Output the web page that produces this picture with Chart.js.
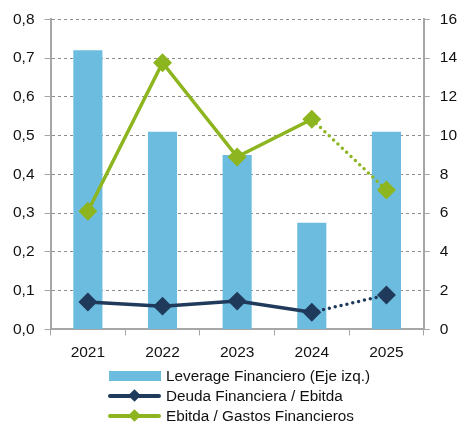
<!DOCTYPE html>
<html>
<head>
<meta charset="utf-8">
<script src="https://cdn.jsdelivr.net/npm/chart.js@4"></script>
<style>
  html, body { margin: 0; padding: 0; background: #fff; }
  body { font-family: "Liberation Sans", Arial, sans-serif; }
  canvas { display: block; }
  #legend { margin: -7px 0 0 108px; font-size: 15.3px; color: #111; }
  .item { height: 20px; display: flex; align-items: center; }
  .sw { width: 53px; height: 20px; position: relative; margin-right: 5px; }
  .box { position: absolute; left: 1px; right: 0; top: 5px; height: 10px; }
  .ln { position: absolute; left: 0; right: 0; top: 8px; height: 4px; border-radius: 2px; }
  .dia { position: absolute; left: 22px; top: 5px; width: 9px; height: 9px; transform: rotate(45deg); }
</style>
</head>
<body>
<canvas id="c" width="463" height="373"></canvas>
<div id="legend"></div>
<script>
const years = ['2021', '2022', '2023', '2024', '2025'];
const leverage = [0.72, 0.51, 0.45, 0.275, 0.51];
const deudaEbitda = [1.41, 1.2, 1.46, 0.89, 1.77];
const ebitdaGastos = [6.1, 13.76, 8.9, 10.84, 7.19];
const leftTicks = [0, 0.1, 0.2, 0.3, 0.4, 0.5, 0.6, 0.7, 0.8];
const rightTicks = [0, 2, 4, 6, 8, 10, 12, 14, 16];

const BLUE = '#6cbcdf', NAVY = '#1f3a5a', GREEN = '#8db51f', AXIS = '#a6a6a6';

// last segment (projection) is dotted
const dotted = ctx => ctx.p0DataIndex === 3 ? [0, 6] : undefined;

new Chart(document.getElementById('c'), {
  type: 'bar',
  data: {
    labels: years,
    datasets: [
      { label: 'Leverage Financiero (Eje izq.)', data: leverage, backgroundColor: BLUE,
        yAxisID: 'y', categoryPercentage: 1, barPercentage: 0.39, order: 3 },
      { type: 'line', label: 'Deuda Financiera / Ebitda', data: deudaEbitda, borderColor: NAVY, backgroundColor: NAVY,
        borderWidth: 3.5, borderCapStyle: 'round', pointStyle: 'rectRot', pointRadius: 7, pointHoverRadius: 7,
        yAxisID: 'y1', segment: { borderDash: dotted }, order: 2 },
      { type: 'line', label: 'Ebitda / Gastos Financieros', data: ebitdaGastos, borderColor: GREEN, backgroundColor: GREEN,
        borderWidth: 3.5, borderCapStyle: 'round', pointStyle: 'rectRot', pointRadius: 7, pointHoverRadius: 7,
        yAxisID: 'y1', segment: { borderDash: dotted }, order: 1 }
    ]
  },
  options: {
    responsive: false,
    animation: false,
    layout: { padding: { top: 17, right: -4, left: 3, bottom: 3 } },
    plugins: { legend: { display: false }, tooltip: { enabled: false } },
    scales: {
      x: {
        offset: true,
        grid: { offset: true, drawOnChartArea: false, color: AXIS, tickLength: 6 },
        border: { color: AXIS, width: 2 },
        ticks: { color: '#111', font: { family: 'Liberation Sans', size: 15.5 }, padding: 8 }
      },
      y: {
        position: 'left', min: 0, max: 0.8,
        ticks: { stepSize: 0.1, color: '#111', font: { family: 'Liberation Sans', size: 15.5 }, padding: 10,
          callback: (v, i) => leftTicks[i].toFixed(1).replace('.', ',') },
        grid: { color: '#8c8c8c', tickColor: AXIS, tickLength: 6 },
        border: { color: AXIS, width: 2, dash: [3, 3] }
      },
      y1: {
        position: 'right', min: 0, max: 16,
        ticks: { stepSize: 2, color: '#111', font: { family: 'Liberation Sans', size: 15.5 }, padding: 10,
          callback: (v, i) => String(rightTicks[i]) },
        grid: { drawOnChartArea: false, color: AXIS, tickLength: 6 },
        border: { color: AXIS, width: 2 }
      }
    }
  }
});

// legend stacked in rows, as in the original
const legend = document.getElementById('legend');
[
  { label: 'Leverage Financiero (Eje izq.)', color: BLUE, kind: 'box' },
  { label: 'Deuda Financiera / Ebitda', color: NAVY, kind: 'line' },
  { label: 'Ebitda / Gastos Financieros', color: GREEN, kind: 'line' }
].forEach(it => {
  const row = document.createElement('div');
  row.className = 'item';
  const sw = it.kind === 'box'
    ? `<div class="sw"><div class="box" style="background:${it.color}"></div></div>`
    : `<div class="sw"><div class="ln" style="background:${it.color}"></div><div class="dia" style="background:${it.color}"></div></div>`;
  row.innerHTML = sw + `<span>${it.label}</span>`;
  legend.appendChild(row);
});
</script>
</body>
</html>
